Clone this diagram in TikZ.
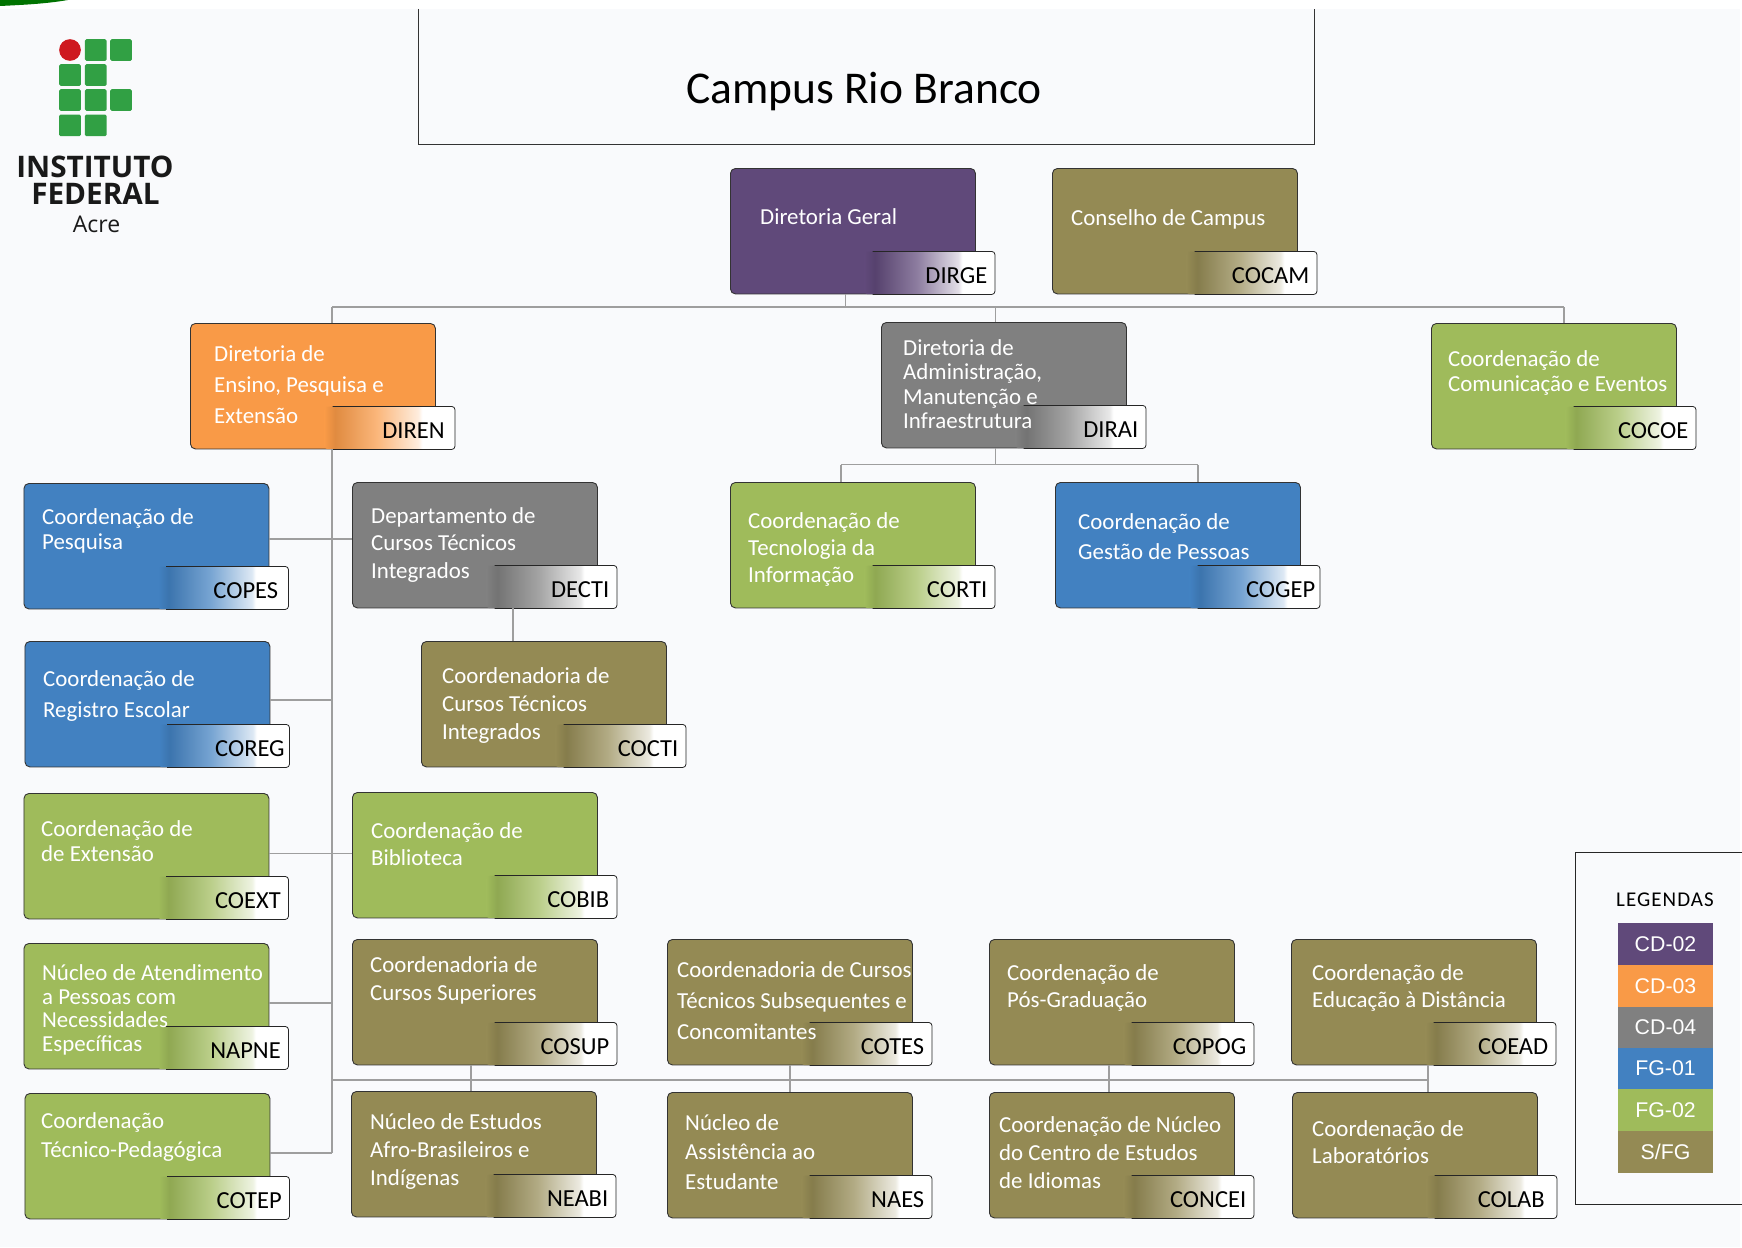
\documentclass[tikz,border=0pt]{standalone}
\usepackage{fontspec}
\setmainfont{Carlito}
\newfontfamily\logofont{Open Sans}
\newfontfamily\legfont{Liberation Sans}
\usetikzlibrary{positioning}

\definecolor{pagebg}{HTML}{F9FAFC}
\definecolor{cdtwo}{HTML}{60497A}
\definecolor{cdthree}{HTML}{F99A47}
\definecolor{cdfour}{HTML}{808080}
\definecolor{fgone}{HTML}{4281C1}
\definecolor{fgtwo}{HTML}{9FBB5B}
\definecolor{sfg}{HTML}{948A54}
\definecolor{ifgreen}{HTML}{31A044}
\definecolor{ifred}{HTML}{CE181E}

\pgfdeclarehorizontalshading[tabcol,tabdark,tabmid,tabpale]{tabfade}{100bp}{color(0bp)=(tabcol); color(25bp)=(tabcol); color(29bp)=(tabdark); color(45bp)=(tabmid); color(61bp)=(tabpale); color(62.5bp)=(white); color(100bp)=(white)}

\tikzset{
  orgbox/.style={draw=black!80, line width=0.9pt, rounded corners=5pt, fill=#1, minimum width=245pt, minimum height=125.5pt, anchor=north west, inner sep=0pt},
  orgtab/.style={/utils/exec={\colorlet{tabcol}{#1}\colorlet{tabdark}{#1!90!black}\colorlet{tabmid}{#1!72!white}\colorlet{tabpale}{#1!18!white}}, shading=tabfade, rounded corners=3pt, minimum width=130pt, minimum height=42.5pt, anchor=south east, inner sep=0pt, text width=115pt, align=right, font=\fontsize{24.5}{24.5}\selectfont, text=black, text height=22pt, text depth=0pt},
  orgtxt/.style={anchor=west, align=left, inner sep=0pt, text=white, font=\fontsize{22.9}{#1}\selectfont},
  legswatch/.style={fill=#1, minimum width=95pt, minimum height=41.8pt, inner sep=0pt, text=white, font=\legfont\fontsize{21.3}{21.3}\selectfont},
  logosq/.style={fill=ifgreen, rounded corners=1.5pt, minimum size=21.7pt, inner sep=0pt, anchor=north west},
  conn/.style={draw=black!38, line width=1.4pt}
}

\begin{document}
\begin{tikzpicture}[x=1pt, y=-1pt]
\useasboundingbox (0,0) rectangle (1742,1247);
\fill[white] (0,0) rectangle (1742,1247);
\fill[pagebg] (0,9) rectangle (1740,1247);
\fill[green!45!black] (0,0) -- (68,0) .. controls (45,4) and (20,5) .. (0,6) -- cycle;

% logo
\node at (70,50) [circle, fill=ifred, minimum size=21.7pt, inner sep=0pt] (logoDot) {};
\node at (84.7,39) [logosq] (logoA) {};
\node at (110,39) [logosq] (logoB) {};
\node at (59,64) [logosq] (logoC) {};
\node at (84.7,64) [logosq] (logoD) {};
\node at (59,89) [logosq] (logoE) {};
\node at (84.7,89) [logosq] (logoF) {};
\node at (110,89) [logosq] (logoG) {};
\node at (59,114.3) [logosq] (logoH) {};
\node at (84.7,114.3) [logosq] (logoI) {};
\node at (95,166.5) [font=\logofont\bfseries\fontsize{29.7}{29.7}\selectfont, text=black!90, inner sep=0pt] (logoInst) {INSTITUTO};
\node at (95.5,193.5) [font=\logofont\bfseries\fontsize{29.7}{29.7}\selectfont, text=black!90, inner sep=0pt] (logoFed) {FEDERAL};
\node at (96.5,224.5) [font=\logofont\fontsize{23}{23}\selectfont, text=black!90, inner sep=0pt] (logoAcre) {Acre};

% title
\draw[black!80, line width=1pt] (418.5,9) -- (418.5,144.5) -- (1314,144.5) -- (1314,9);
\node at (864,92) [font=\fontsize{45.5}{45.5}\selectfont, inner sep=0pt] (title) {Campus Rio Branco};

% boxes
\node at (730,168) [orgbox=cdtwo] (DIRGE) {};
\node at (1052,168) [orgbox=sfg] (COCAM) {};
\node at (190,323) [orgbox=cdthree] (DIREN) {};
\node at (881,322) [orgbox=cdfour] (DIRAI) {};
\node at (1431,323) [orgbox=fgtwo] (COCOE) {};
\node at (23.5,483) [orgbox=fgone] (COPES) {};
\node at (352,482) [orgbox=cdfour] (DECTI) {};
\node at (730,482) [orgbox=fgtwo] (CORTI) {};
\node at (1055,482) [orgbox=fgone] (COGEP) {};
\node at (24.5,641) [orgbox=fgone] (COREG) {};
\node at (421,641) [orgbox=sfg] (COCTI) {};
\node at (23.5,793) [orgbox=fgtwo] (COEXT) {};
\node at (352,792) [orgbox=fgtwo] (COBIB) {};
\node at (23.5,943) [orgbox=fgtwo] (NAPNE) {};
\node at (352,939) [orgbox=sfg] (COSUP) {};
\node at (667,939) [orgbox=sfg] (COTES) {};
\node at (989,939) [orgbox=sfg] (COPOG) {};
\node at (1291,939) [orgbox=sfg] (COEAD) {};
\node at (24.5,1093) [orgbox=fgtwo] (COTEP) {};
\node at (351,1091) [orgbox=sfg] (NEABI) {};
\node at (667,1092) [orgbox=sfg] (NAES) {};
\node at (989,1092) [orgbox=sfg] (CONCEI) {};
\node at (1292,1092) [orgbox=sfg] (COLAB) {};

% tabs
\node at ([xshift=19pt]DIRGE.south east) [orgtab=cdtwo] (DIRGEtab) {DIRGE};
\node at ([xshift=19pt]COCAM.south east) [orgtab=sfg] (COCAMtab) {COCAM};
\node at ([xshift=19pt]DIREN.south east) [orgtab=cdthree, text width=110pt] (DIRENtab) {DIREN};
\node at ([xshift=19pt]DIRAI.south east) [orgtab=cdfour] (DIRAItab) {DIRAI};
\node at ([xshift=19pt]COCOE.south east) [orgtab=fgtwo] (COCOEtab) {COCOE};
\node at ([xshift=19pt]COPES.south east) [orgtab=fgone, text width=110pt] (COPEStab) {COPES};
\node at ([xshift=19pt]DECTI.south east) [orgtab=cdfour] (DECTItab) {DECTI};
\node at ([xshift=19pt]CORTI.south east) [orgtab=fgtwo] (CORTItab) {CORTI};
\node at ([xshift=19pt]COGEP.south east) [orgtab=fgone, text width=121pt] (COGEPtab) {COGEP};
\node at ([xshift=19pt]COREG.south east) [orgtab=fgone, text width=121pt] (COREGtab) {COREG};
\node at ([xshift=19pt]COCTI.south east) [orgtab=sfg] (COCTItab) {COCTI};
\node at ([xshift=19pt]COEXT.south east) [orgtab=fgtwo] (COEXTtab) {COEXT};
\node at ([xshift=19pt]COBIB.south east) [orgtab=fgtwo] (COBIBtab) {COBIB};
\node at ([xshift=19pt]NAPNE.south east) [orgtab=fgtwo] (NAPNEtab) {NAPNE};
\node at ([xshift=19pt]COSUP.south east) [orgtab=sfg] (COSUPtab) {COSUP};
\node at ([xshift=19pt]COTES.south east) [orgtab=sfg] (COTEStab) {COTES};
\node at ([xshift=19pt]COPOG.south east) [orgtab=sfg] (COPOGtab) {COPOG};
\node at ([xshift=19pt]COEAD.south east) [orgtab=sfg] (COEADtab) {COEAD};
\node at ([xshift=19pt]COTEP.south east) [orgtab=fgtwo] (COTEPtab) {COTEP};
\node at ([xshift=19pt]NEABI.south east) [orgtab=sfg] (NEABItab) {NEABI};
\node at ([xshift=19pt]NAES.south east) [orgtab=sfg] (NAEStab) {NAES};
\node at ([xshift=19pt]CONCEI.south east) [orgtab=sfg] (CONCEItab) {CONCEI};
\node at ([xshift=19pt]COLAB.south east) [orgtab=sfg, text width=106pt] (COLABtab) {COLAB};

\foreach \n in {DIRGE,COCAM,DIREN,DIRAI,COCOE,COPES,DECTI,CORTI,COGEP,COREG,COCTI,COEXT,COBIB,NAPNE,COSUP,COTES,COPOG,COEAD,COTEP,NEABI,NAES,CONCEI,COLAB}
  \draw[black!85, line width=0.8pt, rounded corners=3pt] ([xshift=8pt]\n tab.north west) -- (\n tab.north east) -- (\n tab.south east) -- ([xshift=8pt]\n tab.south west);

% box texts
\node at (760,217) [orgtxt=26] (DIRGEtxt) {Diretoria Geral};
\node at (1071,219) [orgtxt=26] (COCAMtxt) {Conselho de Campus};
\node at (214,385) [orgtxt=31] (DIRENtxt) {Diretoria de\\Ensino, Pesquisa e\\Extensão};
\node at (903,384) [orgtxt=24.5] (DIRAItxt) {Diretoria de\\Administração,\\Manutenção e\\Infraestrutura};
\node at (1448,373) [orgtxt=25.5] (COCOEtxt) {Coordenação de\\Comunicação e Eventos};
\node at (42,531) [orgtxt=24.5] (COPEStxt) {Coordenação de\\Pesquisa};
\node at (371,545) [orgtxt=27.5] (DECTItxt) {Departamento de\\Cursos Técnicos\\Integrados};
\node at (748,549) [orgtxt=27] (CORTItxt) {Coordenação de\\Tecnologia da\\Informação};
\node at (1078,537) [orgtxt=30] (COGEPtxt) {Coordenação de\\Gestão de Pessoas};
\node at (43,696) [orgtxt=30.5] (COREGtxt) {Coordenação de\\Registro Escolar};
\node at (442,706) [orgtxt=28] (COCTItxt) {Coordenadoria de\\Cursos Técnicos\\Integrados};
\node at (41,841) [orgtxt=25.5] (COEXTtxt) {Coordenação de\\de Extensão};
\node at (371,844) [orgtxt=27] (COBIBtxt) {Coordenação de\\Biblioteca};
\node at (42,1010) [orgtxt=23.5] (NAPNEtxt) {Núcleo de Atendimento\\a Pessoas com\\Necessidades\\Específicas};
\node at (370,980) [orgtxt=28] (COSUPtxt) {Coordenadoria de\\Cursos Superiores};
\node at (677,1001) [orgtxt=31] (COTEStxt) {Coordenadoria de Cursos\\Técnicos Subsequentes e\\Concomitantes};
\node at (1007,988) [orgtxt=27] (COPOGtxt) {Coordenação de\\Pós-Graduação};
\node at (1312,988) [orgtxt=27] (COEADtxt) {Coordenação de\\Educação à Distância};
\node at (41,1137) [orgtxt=29] (COTEPtxt) {Coordenação\\Técnico-Pedagógica};
\node at (370,1152) [orgtxt=28] (NEABItxt) {Núcleo de Estudos\\Afro-Brasileiros e\\Indígenas};
\node at (685,1152) [orgtxt=29.5] (NAEStxt) {Núcleo de\\Assistência ao\\Estudante};
\node at (999,1153) [orgtxt=28] (CONCEItxt) {Coordenação de Núcleo\\do Centro de Estudos\\de Idiomas};
\node at (1312,1142) [orgtxt=27] (COLABtxt) {Coordenação de\\Laboratórios};

% connectors
\coordinate (topLeft) at (332,307);
\coordinate (topRight) at (1564,307);
\coordinate (topDirge) at (845.5,307);
\coordinate (topDirai) at (995.5,307);
\coordinate (midBus) at (995.5,464.5);
\coordinate (midLeft) at (841,464.5);
\coordinate (midRight) at (1198,464.5);
\coordinate (trunkPes) at (332,539);
\coordinate (trunkReg) at (332,700);
\coordinate (trunkExt) at (332,853.5);
\coordinate (trunkNap) at (332,1003);
\coordinate (trunkBus) at (332,1080);
\coordinate (trunkEnd) at (332,1153);
\coordinate (busEnd) at (1428,1080);
\coordinate (busSup) at (471,1080);
\coordinate (busTes) at (790,1080);
\coordinate (busPog) at (1109,1080);
\coordinate (decDrop) at (513,608);

\draw[conn] (topLeft) -- (topRight);
\draw[conn] (topLeft) -- (topLeft |- DIREN.north);
\draw[conn] (topRight) -- (topRight |- COCOE.north);
\draw[conn] (topDirge) -- (topDirge |- DIRGE.south);
\draw[conn] (topDirai) -- (topDirai |- DIRAI.north);
\draw[conn] (midBus |- DIRAI.south) -- (midBus);
\draw[conn] (midLeft) -- (midRight);
\draw[conn] (midLeft) -- (midLeft |- CORTI.north);
\draw[conn] (midRight) -- (midRight |- COGEP.north);
\draw[conn] (topLeft |- DIREN.south) -- (trunkEnd);
\draw[conn] (COPES.east |- trunkPes) -- (DECTI.west |- trunkPes);
\draw[conn] (COREG.east |- trunkReg) -- (trunkReg);
\draw[conn] (COEXT.east |- trunkExt) -- (COBIB.west |- trunkExt);
\draw[conn] (NAPNE.east |- trunkNap) -- (trunkNap);
\draw[conn] (COTEP.east |- trunkEnd) -- (trunkEnd);
\draw[conn] (trunkBus) -- (busEnd);
\draw[conn] (busSup |- COSUP.south) -- (busSup |- NEABI.north);
\draw[conn] (busTes |- COTES.south) -- (busTes |- NAES.north);
\draw[conn] (busPog |- COPOG.south) -- (busPog |- CONCEI.north);
\draw[conn] (busEnd |- COEAD.south) -- (busEnd |- COLAB.north);
\draw[conn] (decDrop |- DECTI.south) -- (decDrop |- COCTI.north);

% legend
\draw[black!85, line width=1pt] (1742,852) -- (1575.5,852) -- (1575.5,1204.5) -- (1742,1204.5);
\node at (1665,899.5) [font=\fontsize{21}{21}\selectfont, inner sep=0pt] (legTitle) {\addfontfeature{LetterSpace=5}LEGENDAS};
\node at (1665.5,944) [legswatch=cdtwo] (legA) {\raisebox{-1pt}{CD-02}};
\node at (1665.5,986) [legswatch=cdthree] (legB) {\raisebox{-1pt}{CD-03}};
\node at (1665.5,1027.4) [legswatch=cdfour] (legC) {\raisebox{-1pt}{CD-04}};
\node at (1665.5,1068.4) [legswatch=fgone] (legD) {\raisebox{-1pt}{FG-01}};
\node at (1665.5,1110) [legswatch=fgtwo] (legE) {\raisebox{-1pt}{FG-02}};
\node at (1665.5,1152) [legswatch=sfg] (legF) {\raisebox{-1pt}{S/FG}};
\end{tikzpicture}
\end{document}
